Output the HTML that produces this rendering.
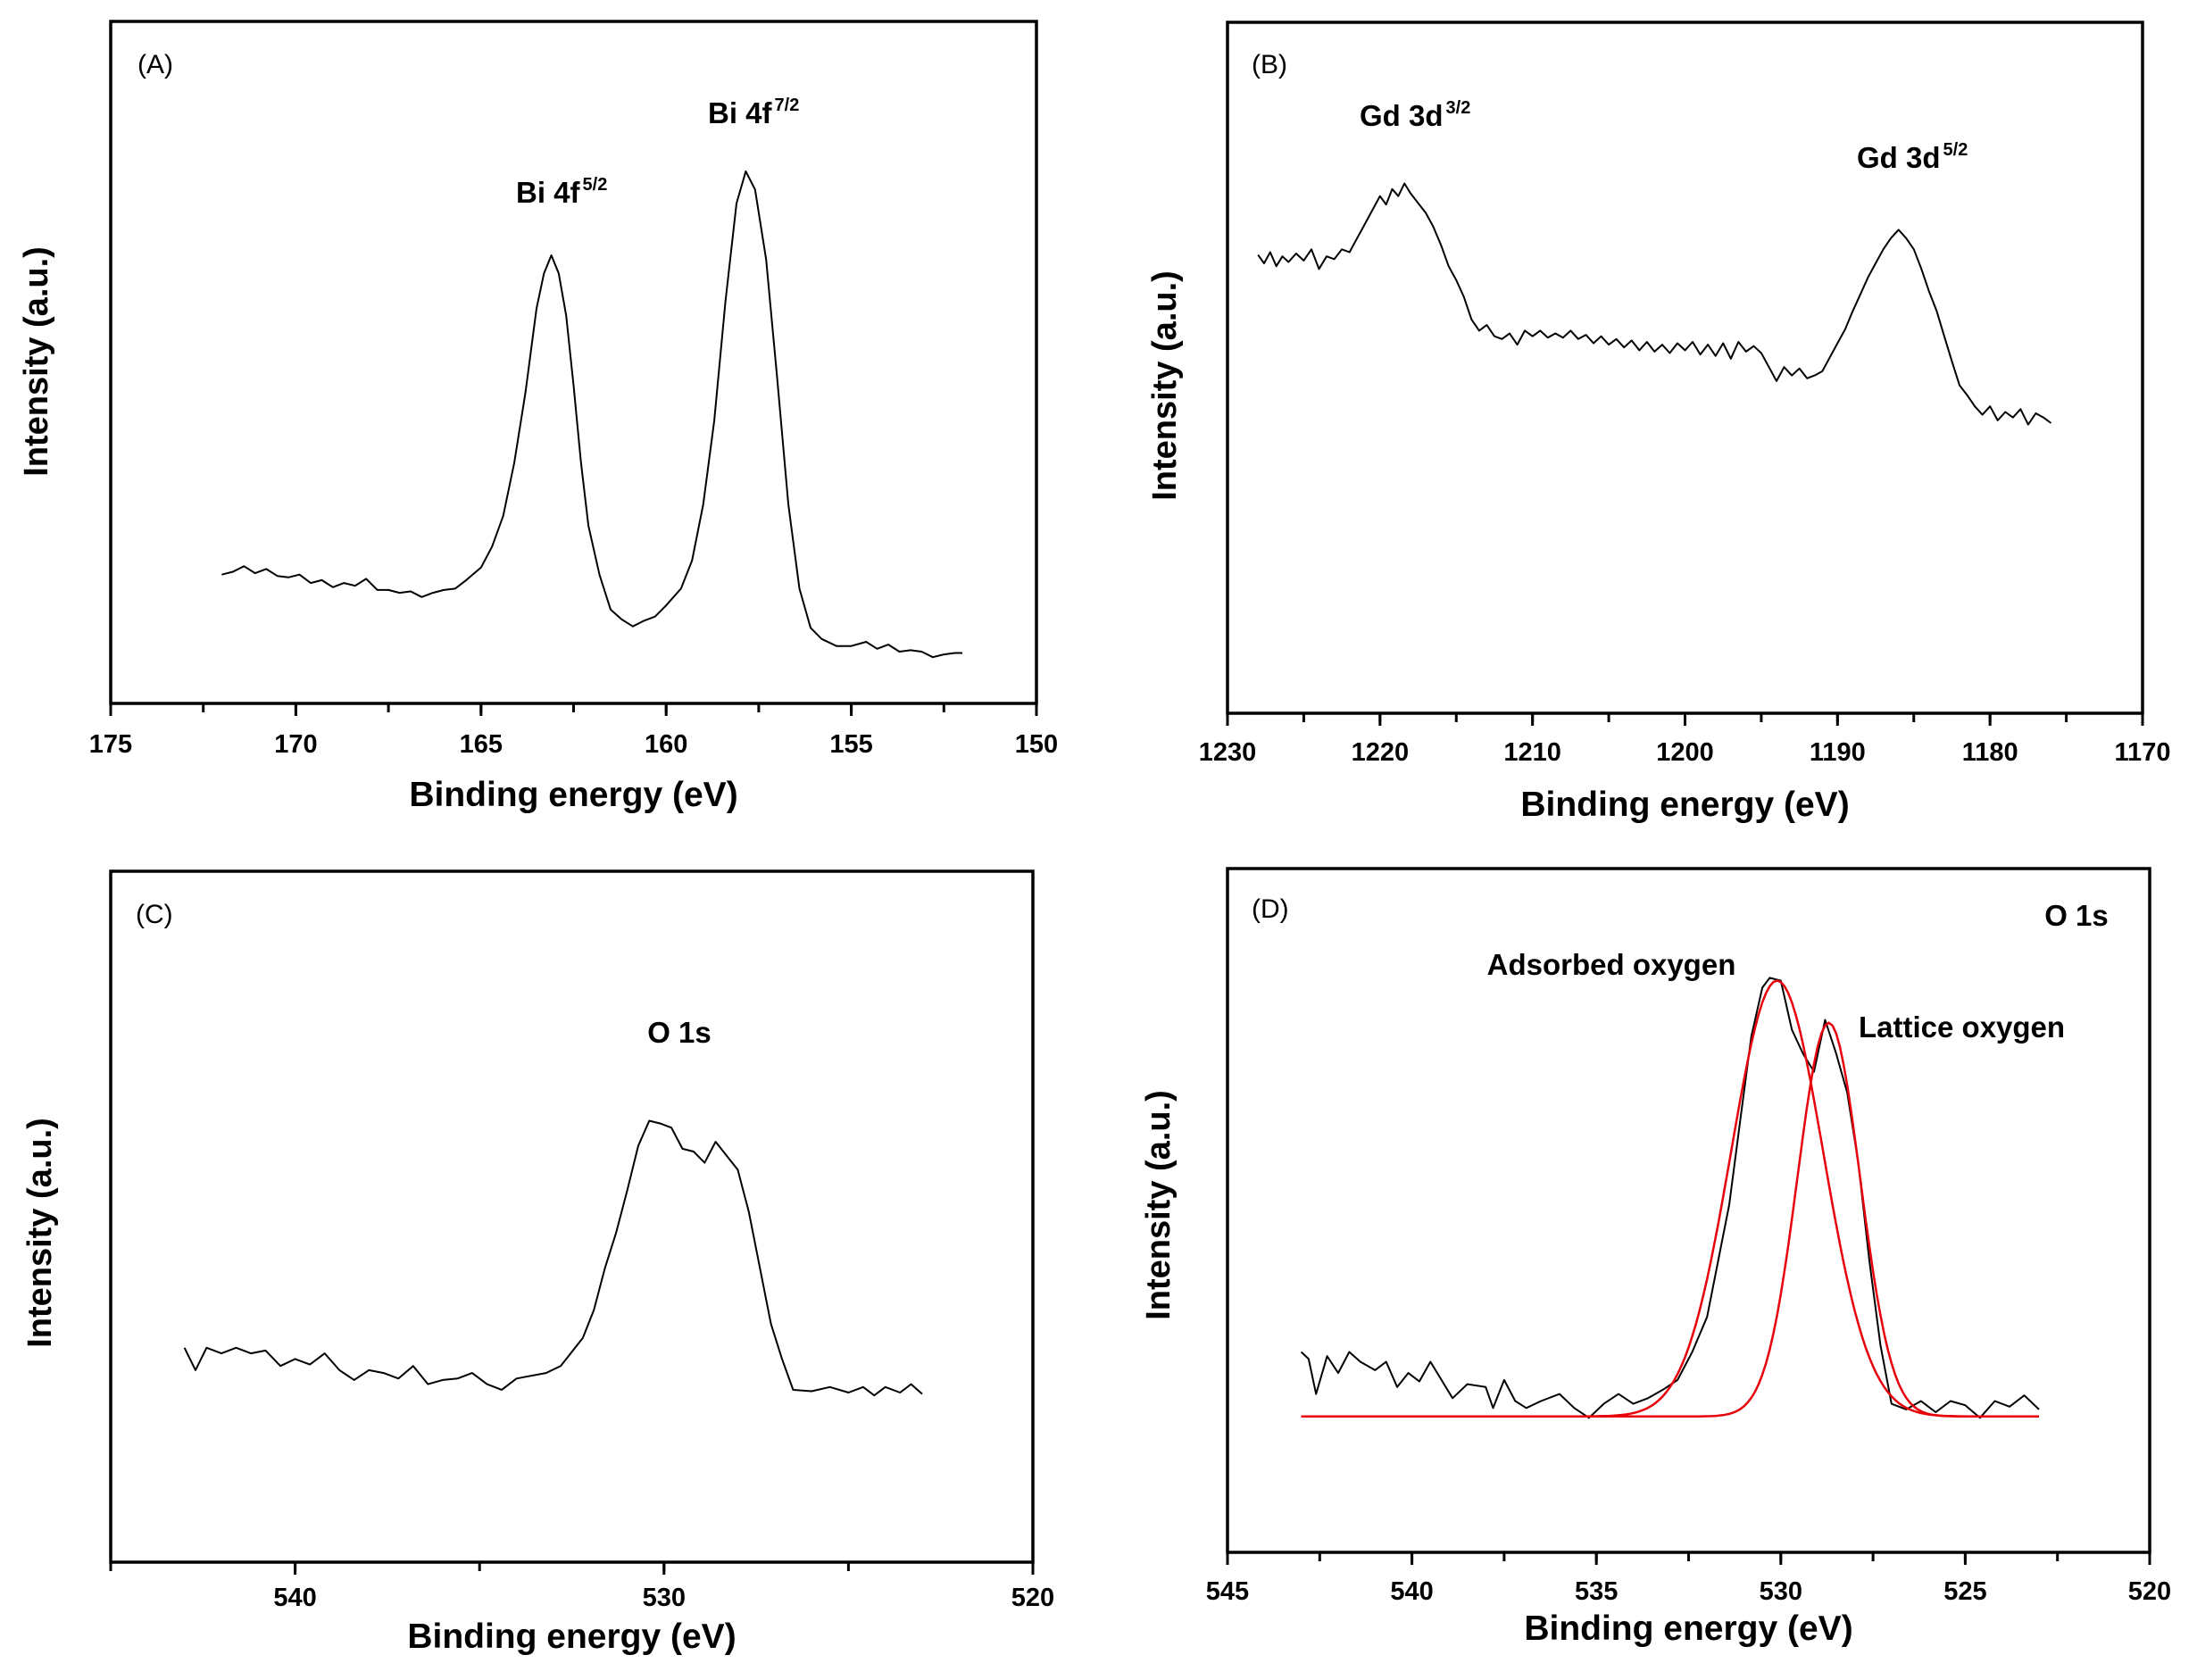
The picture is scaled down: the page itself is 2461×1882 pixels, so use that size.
<!DOCTYPE html>
<html><head><meta charset="utf-8"><style>
html,body{margin:0;padding:0;background:#fff;}
svg{display:block;font-family:"Liberation Sans",Arial,sans-serif;}
</style></head><body>
<svg id="chart" width="2461" height="1882" viewBox="0 0 2461 1882" xmlns="http://www.w3.org/2000/svg">
<rect width="2461" height="1882" fill="#fff"/>
</svg>
<script>
// Panel A: Bi 4f
const aEnergy=[172.0,171.7,171.4,171.1,170.8,170.5,170.2,169.9,169.6,169.3,169.0,168.7,168.4,168.1,167.8,167.5,167.2,166.9,166.6,166.3,166.0,165.7,165.4,165.0,164.7,164.4,164.1,163.8,163.5,163.3,163.1,162.9,162.7,162.5,162.3,162.1,161.8,161.5,161.2,160.9,160.6,160.3,160.0,159.6,159.3,159.0,158.7,158.4,158.1,157.85,157.6,157.3,157.0,156.7,156.4,156.1,155.8,155.4,155.0,154.6,154.3,154.0,153.7,153.4,153.1,152.8,152.5,152.2,152.0];
const aIntensity=[92,94,98,93,96,91,90,92,86,88,83,86,84,89,81,81,79,80,76,79,81,82,88,97,112,134,172,222,282,307,320,307,277,227,172,127,92,67,60,55,59,62,70,82,102,142,202,287,357,380,367,317,232,142,82,54,46,41,41,44,39,42,37,38,37,33,35,36,36];
const aTicks=[175,170,165,160,155,150];
// Panel B: Gd 3d
const bEnergy=[1228,1227.6,1227.2,1226.8,1226.4,1226,1225.5,1225,1224.5,1224,1223.5,1223,1222.5,1222,1221.5,1221,1220.5,1220,1219.6,1219.2,1218.8,1218.4,1218,1217.5,1217,1216.5,1216,1215.5,1215,1214.5,1214,1213.5,1213,1212.5,1212,1211.5,1211,1210.5,1210,1209.5,1209,1208.5,1208,1207.5,1207,1206.5,1206,1205.5,1205,1204.5,1204,1203.5,1203,1202.5,1202,1201.5,1201,1200.5,1200,1199.5,1199,1198.5,1198,1197.5,1197,1196.5,1196,1195.5,1195,1194.5,1194,1193.5,1193,1192.5,1192,1191.5,1191,1190.5,1190,1189.5,1189,1188.5,1188,1187.5,1187,1186.5,1186,1185.5,1185,1184.5,1184,1183.5,1183,1182.5,1182,1181.5,1181,1180.5,1180,1179.5,1179,1178.5,1178,1177.5,1177,1176.5,1176];
const bIntensity=[327,321,329,319,326,322,328,323,331,317,326,324,331,329,339,349,359,369,363,374,369,378,371,364,357,347,334,319,309,297,281,273,277,269,267,271,263,273,269,273,268,271,268,273,267,270,264,269,263,267,261,266,259,265,258,263,257,264,259,265,256,263,255,264,253,265,258,262,257,247,237,247,241,246,239,241,244,254,264,274,287,299,311,321,331,339,345,339,331,317,301,287,269,251,234,227,219,213,219,209,215,211,217,206,214,211,207];
const bTicks=[1230,1220,1210,1200,1190,1180,1170];
// Panel C: O 1s
const cEnergy=[543,542.7,542.4,542.0,541.6,541.2,540.8,540.4,540.0,539.6,539.2,538.8,538.4,538.0,537.6,537.2,536.8,536.4,536.0,535.6,535.2,534.8,534.4,534.0,533.6,533.2,532.8,532.5,532.2,531.9,531.6,531.3,531.0,530.7,530.4,530.1,529.8,529.5,529.2,528.9,528.6,528.3,528.0,527.7,527.4,527.1,526.8,526.5,526.0,525.5,525.0,524.6,524.3,524.0,523.6,523.3,523.0];
const cIntensity=[153,137,153,149,153,149,151,140,145,141,149,137,130,137,135,131,140,127,130,131,135,127,123,131,133,135,140,150,160,180,210,235,265,297,315,313,310,295,293,285,300,290,280,250,210,170,145,123,122,125,121,125,119,125,121,127,120];
const cTicks=[540,530,520];
// Panel D: O 1s deconvoluted
const dEnergy=[543.0,542.8,542.6,542.3,542.0,541.7,541.4,541.0,540.7,540.4,540.1,539.8,539.5,539.2,538.9,538.5,538.0,537.8,537.5,537.2,536.9,536.5,536.0,535.6,535.2,534.8,534.4,534.0,533.6,533.2,532.8,532.4,532.0,531.7,531.4,531.1,530.8,530.5,530.3,530.0,529.7,529.4,529.1,528.8,528.5,528.2,527.9,527.6,527.3,527.0,526.6,526.2,525.8,525.4,525.0,524.6,524.2,523.8,523.4,523.0];
const dIntensity=[143,138,113,140,128,143,136,130,136,118,128,122,136,123,110,120,118,103,123,108,103,108,113,103,96,106,113,106,110,116,123,143,168,208,248,308,368,403,410,408,373,356,343,380,356,328,278,208,148,106,102,108,100,108,105,96,108,104,112,102];
const dFitCenters=[530.1,528.7];
const dFitAmplitudes=[311,281];
const dFitSigmas=[1.25,0.85];
const dFitBaseline=[97];
const dTicks=[545,540,535,530,525,520];

const NS='http://www.w3.org/2000/svg';
const svg=document.getElementById('chart');
function mk(tag,attrs,parent){const e=document.createElementNS(NS,tag);for(const k in attrs)e.setAttribute(k,attrs[k]);(parent||svg).appendChild(e);return e;}

function panel(cfg){
  const g=mk('g',{});
  
  
  const L=cfg.box[0],R=cfg.box[1],T=cfg.box[2],B=cfg.box[3];
  const sx=v=>L+(cfg.xmax-v)/(cfg.xmax-cfg.xmin)*(R-L);
  const sy=v=>B-(v-cfg.ymin)/(cfg.ymax-cfg.ymin)*(B-T);
  if(cfg.series){
    for(const s of cfg.series){
      const pts=s.x.map((v,i)=>sx(v).toFixed(1)+','+sy(s.y[i]).toFixed(1)).join(' ');
      const p=mk('polyline',{points:pts,fill:'none',stroke:s.color,'stroke-width':s.w||2,'stroke-linejoin':'round'},g);
      
      
    }
  }
  const f=mk('rect',{x:L,y:T,width:R-L,height:B-T,fill:'none',stroke:'#000','stroke-width':3.5},g);
  
  
  for(const t of cfg.minor){
    const tk=mk('line',{x1:sx(t),x2:sx(t),y1:B,y2:B+10,stroke:'#000','stroke-width':3},g);
    
    
  }
  for(const t of cfg.ticks){
    const tk=mk('line',{x1:sx(t),x2:sx(t),y1:B,y2:B+14,stroke:'#000','stroke-width':3},g);
    
    
    const lb=mk('text',{x:sx(t),y:cfg.tickY,'text-anchor':'middle','font-size':29,'font-weight':'bold'},g);
    lb.textContent=t;
    
    
  }
  const xt=mk('text',{x:(L+R)/2,y:cfg.titleY,'text-anchor':'middle','font-size':39,'font-weight':'bold'},g);
  xt.textContent='Binding energy (eV)';
  
  
  const yt=mk('text',{x:0,y:0,'text-anchor':'middle','font-size':38,'font-weight':'bold',transform:`translate(${cfg.yTitle[0]},${cfg.yTitle[1]}) rotate(-90)`},g);
  yt.textContent='Intensity (a.u.)';
  
  
  const pl=mk('text',{x:cfg.label[0],y:cfg.label[1],'font-size':30},g);
  pl.textContent=cfg.label[2];
  
  
  for(const a of cfg.notes){
    const t=mk('text',{x:a.x,y:a.y,'font-size':33,'font-weight':'bold','text-anchor':a.anchor||'start'},g);
    
    
    t.appendChild(document.createTextNode(a.text));
    if(a.sup){const s=mk('tspan',{dx:3,dy:-14,'font-size':20},t);s.textContent=a.sup;}
  }
}

function range(a,b,st){const r=[];for(let v=a;v<=b+1e-9;v+=st)r.push(+v.toFixed(2));return r;}

panel({name:'panel-a-bi4f',box:[124,1161,24,788],xmin:150,xmax:175,ymin:0,ymax:487,
  ticks:aTicks,minor:range(150,175,2.5),tickY:843,titleY:903,yTitle:[53,405],label:[154,82,'(A)'],
  series:[{x:aEnergy,y:aIntensity,color:'#000',name:'bi4f-spectrum'}],
  notes:[{x:578,y:227,text:'Bi 4f',sup:'5/2',name:'bi4f52-label'},{x:793,y:138,text:'Bi 4f',sup:'7/2',name:'bi4f72-label'}]});

panel({name:'panel-b-gd3d',box:[1375,2400,25,799],xmin:1170,xmax:1230,ymin:0,ymax:493,
  ticks:bTicks,minor:range(1170,1230,5),tickY:852,titleY:914,yTitle:[1317,432],label:[1402,82,'(B)'],
  series:[{x:bEnergy,y:bIntensity,color:'#000',name:'gd3d-spectrum'}],
  notes:[{x:1523,y:141,text:'Gd 3d',sup:'3/2',name:'gd3d32-label'},{x:2080,y:188,text:'Gd 3d',sup:'5/2',name:'gd3d52-label'}]});

panel({name:'panel-c-o1s',box:[124,1157,976,1750],xmin:520,xmax:545,ymin:0,ymax:493,
  ticks:cTicks,minor:range(520,545,5),tickY:1799,titleY:1846,yTitle:[57,1381],label:[152,1034,'(C)'],
  series:[{x:cEnergy,y:cIntensity,color:'#000',name:'o1s-spectrum'}],
  notes:[{x:761,y:1168,text:'O 1s',anchor:'middle',name:'o1s-label'}]});

const fitX=range(523,543,0.1);
const fitSeries=dFitCenters.map((c,k)=>({x:fitX,y:fitX.map(v=>dFitBaseline[0]+dFitAmplitudes[k]*Math.exp(-((v-c)**2)/(2*dFitSigmas[k]**2))),color:'#e8000b',name:k===0?'adsorbed-oxygen-fit':'lattice-oxygen-fit',w:2.5}));
panel({name:'panel-d-o1s-fit',box:[1375,2408,973,1739],xmin:520,xmax:545,ymin:0,ymax:488,
  ticks:dTicks,minor:range(520,545,2.5),tickY:1792,titleY:1837,yTitle:[1310,1350],label:[1402,1028,'(D)'],
  series:[{x:dEnergy,y:dIntensity,color:'#000',name:'o1s-spectrum'}].concat(fitSeries),
  notes:[{x:2326,y:1037,text:'O 1s',anchor:'middle',name:'o1s-label'},{x:1805,y:1092,text:'Adsorbed oxygen',anchor:'middle',name:'adsorbed-oxygen-label'},{x:2082,y:1162,text:'Lattice oxygen',name:'lattice-oxygen-label'}]});
</script>
</body></html>
